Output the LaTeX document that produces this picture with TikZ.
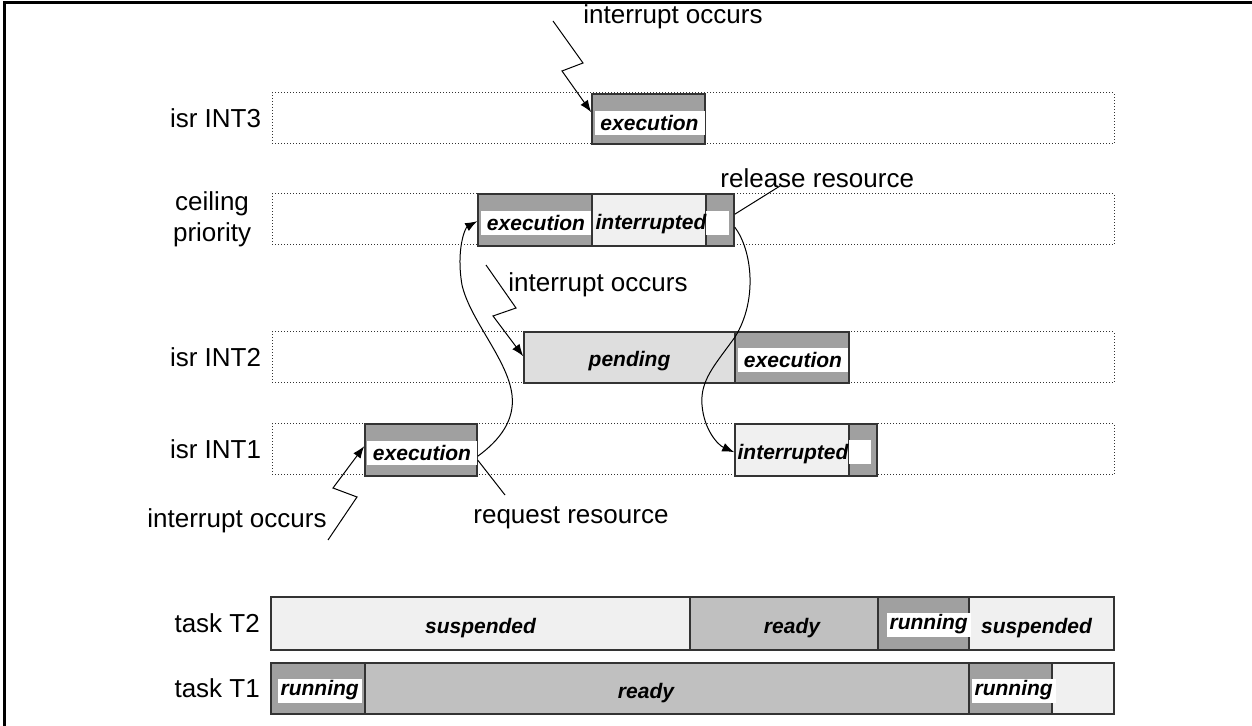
\documentclass[tikz,border=0pt]{standalone}
\usepackage{fontspec}
\setmainfont{Liberation Sans}
\usetikzlibrary{arrows.meta,calc,fit,positioning}
\definecolor{exec}{HTML}{A0A0A0}
\definecolor{wait}{HTML}{C0C0C0}
\definecolor{idle}{HTML}{F0F0F0}
\definecolor{pend}{HTML}{DEDEDE}
\definecolor{edge}{HTML}{333333}

\begin{document}
\begin{tikzpicture}[x=0.5pt,y=-0.5pt,>={Latex[length=6pt,width=4.5pt]},
  lane/.style={draw=edge,densely dotted,line width=0.5pt,inner sep=0pt},
  slot/.style={draw=edge,line width=0.8pt,inner sep=0pt},
  tag/.style={font=\fontsize{13}{15.5}\selectfont,inner sep=0pt},
  state/.style={font=\fontsize{10.5}{12}\selectfont\bfseries\itshape,inner sep=0pt},
  hl/.style={state,fill=white,inner xsep=1.5pt,minimum height=12pt},
  wire/.style={line width=0.5pt}]
\useasboundingbox (0,0) rectangle (1252,726);
\draw[line width=1.5pt] (4,726) -- (4,3) -- (1252,3);

% lanes
\foreach \n/\y in {l3/93,lc/194,l2/332,l1/424}
  \node[lane,fit={(272,\y) (1114,\y+51)}] (\n) {};
\node[tag,left=5pt of l3] (t3) {isr INT3};
\node[tag,left=10pt of lc,align=center] (tc) {ceiling\\priority};
\node[tag,left=5pt of l2] (t2) {isr INT2};
\node[tag,left=5pt of l1] (t1) {isr INT1};

% isr INT3
\node[slot,fill=exec,fit={(592,94) (705,144)}] (e3) {};
\node[hl,minimum width=55pt] at ($(e3.north)+(1,30)$) {execution};

% ceiling priority
\node[slot,fill=exec,fit={(478,194) (592,246)}] (ec) {};
\node[slot,fill=idle,fit={(592,194) (706,246)}] (ic) {};
\node[slot,fill=exec,fit={(706,194) (734,246)}] (sc) {};
\node[hl,minimum width=55pt] at ($(ec.north)+(1,30)$) {execution};
\fill[white] ($(sc.north west)+(1,18)$) rectangle ($(sc.north east)+(-6,42)$);
\node[state,anchor=west] at ($(ic.north west)+(4,31)$) {interrupted};

% isr INT2
\node[slot,fill=pend,fit={(524,332) (735,383)}] (p2) {};
\node[slot,fill=exec,fit={(735,332) (849,383)}] (e2) {};
\node[state] at ($(p2.center)+(0,4)$) {pending};
\node[hl,minimum width=55pt] at ($(e2.north)+(1,29)$) {execution};

% isr INT1
\node[slot,fill=exec,fit={(365,424) (477,476)}] (e1) {};
\node[slot,fill=idle,fit={(735,424) (849,476)}] (i1) {};
\node[slot,fill=exec,fit={(849,424) (877,476)}] (s1) {};
\node[hl,minimum width=55pt] at ($(e1.north)+(1,30)$) {execution};
\fill[white] ($(s1.north west)+(1,17)$) rectangle ($(s1.north east)+(-7,41)$);
\node[state,anchor=west] at ($(i1.north west)+(3,31)$) {interrupted};

% tasks
\node[slot,fill=idle,fit={(271,597) (690,650)}] (a1) {};
\node[slot,fill=wait,fit={(690,597) (878,650)}] (a2) {};
\node[slot,fill=exec,fit={(878,597) (969,650)}] (a3) {};
\node[slot,fill=idle,fit={(969,597) (1114,650)}] (a4) {};
\node[slot,fill=exec,fit={(271,663) (365,714)}] (b1) {};
\node[slot,fill=wait,fit={(365,663) (969,714)}] (b2) {};
\node[slot,fill=exec,fit={(969,663) (1052,714)}] (b3) {};
\node[slot,fill=idle,fit={(1052,663) (1114,714)}] (b4) {};
\node[tag,left=5pt of a1] (ta) {task T2};
\node[tag,left=5pt of b1] (tb) {task T1};
\node[state] at ($(a1.center)+(0,5)$) {suspended};
\node[state] at ($(a2.center)+(8,5)$) {ready};
\node[hl,anchor=west] at ($(a3.west)+(9,1)$) {running};
\node[state] at ($(a4.center)+(-5,5)$) {suspended};
\node[hl,anchor=west] at ($(b1.west)+(7,2)$) {running};
\node[state] at ($(b2.center)+(-21,5)$) {ready};
\node[hl,anchor=west] at ($(b3.west)+(3,2)$) {running};

% interrupts
\node[tag,anchor=west] (n3) at (583,17) {interrupt occurs};
\coordinate (z3a) at (553,21);
\coordinate (z3b) at (583,63);
\coordinate (z3c) at (562,71);
\draw[wire,->] (z3a) -- (z3b) -- (z3c) -- ($(e3.north west)+(0,19)$);

\node[tag,anchor=west] (n2) at (508,285) {interrupt occurs};
\coordinate (z2a) at (486,265);
\coordinate (z2b) at (516,308);
\coordinate (z2c) at (493,316);
\draw[wire,->] (z2a) -- (z2b) -- (z2c) -- ($(p2.north west)+(0,25)$);

\node[tag,anchor=east] (n1) at (327,521) {interrupt occurs};
\coordinate (z1a) at (328,540);
\coordinate (z1b) at (357,497);
\coordinate (z1c) at (333,488);
\draw[wire,->] (z1a) -- (z1b) -- (z1c) -- ($(e1.north west)+(0,23)$);

% resource
\node[tag,anchor=west] (rel) at (720,178) {release resource};
\coordinate (rl) at (780,186);
\draw[wire] ($(sc.north east)+(0,21)$) -- (rl);
\node[tag,anchor=west] (req) at (473,518) {request resource};
\coordinate (rq) at (505,495);
\draw[wire] ($(e1.north east)+(0,37)$) -- (rq);

% switches
\draw[wire,->] ($(e1.north east)+(0,33)$)
  .. controls (500,440) and (515,420) .. (512,395)
  .. controls (508,360) and (470,320) .. (462,285)
  .. controls (456,250) and (465,228) .. ($(ec.north west)+(0,28)$);
\draw[wire,->] ($(sc.north east)+(0,34)$)
  .. controls (752,250) and (758,300) .. (735,337)
  .. controls (715,365) and (700,380) .. (702,405)
  .. controls (704,430) and (718,445) .. ($(i1.north west)+(0,29)$);
\end{tikzpicture}
\end{document}
